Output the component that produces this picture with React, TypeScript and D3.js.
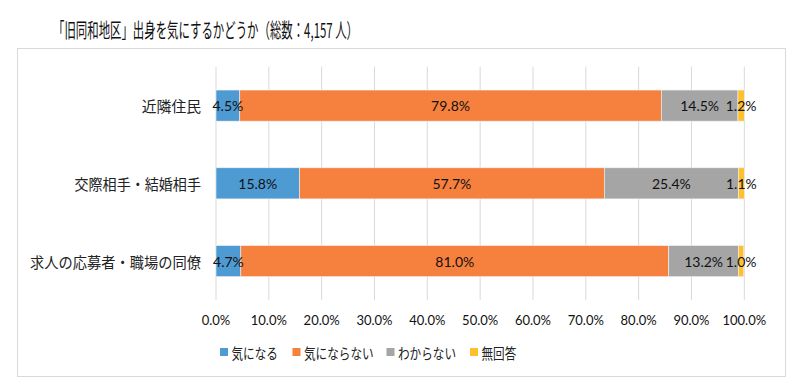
import React from "react";
import * as d3 from "d3";

const title = "「旧同和地区」出身を気にするかどうか（総数：4,157 人）";
const categories = ["近隣住民", "交際相手・結婚相手", "求人の応募者・職場の同僚"];
const seriesNames = ["気になる", "気にならない", "わからない", "無回答"];
const kininaru = [4.5, 15.8, 4.7];
const kininaranai = [79.8, 57.7, 81.0];
const wakaranai = [14.5, 25.4, 13.2];
const mukaito = [1.2, 1.1, 1.0];
const ticks = [0, 10, 20, 30, 40, 50, 60, 70, 80, 90, 100];
const colors = ["#4E9AD3", "#F6803E", "#A5A5A5", "#FFC02D"];

const W = 801, H = 391;
const left = 216, right = 744.3, top = 66.7, bottom = 300;

// approximate rendered width of a CJK label in the narrow reference font
const labelWidth = (s: string, em: number) =>
  Array.from(s).reduce((a, ch) => a + (ch === "・" ? em * 0.55 : em), 0);

export default function App() {
  const x = d3.scaleLinear().domain([0, 100]).range([left, right]);
  const y = d3.scaleBand().domain(categories).range([top, bottom]).paddingInner(0.6).paddingOuter(0.3);
  const table = categories.map((c, i) => ({
    cat: c,
    "気になる": kininaru[i],
    "気にならない": kininaranai[i],
    "わからない": wakaranai[i],
    "無回答": mukaito[i],
  }));
  const stacked = d3.stack<any>().keys(seriesNames)(table);
  const legendX = [220, 292.5, 386.5, 470];
  const legendW = seriesNames.map((n) => n.length * 11.6);
  const fmt = (v: number) => v.toFixed(1) + "%";
  return (
    <svg width={W} height={H} style={{ position: "absolute", left: 0, top: 0, background: "#fff" }}>
      <rect x={0} y={0} width={W} height={H} fill="#fff" />
      <text x={53} y={37.5} fontSize={20} fontFamily="'Noto Sans CJK JP'" fill="#111" textLength={305} lengthAdjust="spacingAndGlyphs">{title}</text>
      <rect x={17.5} y={48.5} width={768} height={328} fill="none" stroke="#D9D9D9" strokeWidth={1} />
      {ticks.map((t) => (
        <line key={t} x1={x(t)} x2={x(t)} y1={top} y2={bottom} stroke="#D9D9D9" strokeWidth={1} />
      ))}
      {stacked.map((s, si) => (
        <g key={s.key}>
          {s.map((d, i) => (
            <rect key={i} x={x(d[0])} y={y(categories[i])!} width={x(d[1]) - x(d[0])} height={y.bandwidth()}
              fill={colors[si]} stroke="#F2F2F2" strokeWidth={0.6} />
          ))}
        </g>
      ))}
      {stacked.map((s, si) => (
        <g key={"l" + s.key}>
          {s.map((d, i) => (
            <text key={i} x={(x(d[0]) + x(d[1])) / 2} y={y(categories[i])! + y.bandwidth() / 2}
              textAnchor="middle" dominantBaseline="central" fontSize={14} fontFamily="Lato" fill="#111">
              {fmt(d[1] - d[0])}
            </text>
          ))}
        </g>
      ))}
      {categories.map((c) => (
        <text key={c} x={201} y={y(c)! + y.bandwidth() / 2} textAnchor="end" dominantBaseline="central"
          fontSize={15} fontFamily="'Noto Sans CJK JP'" fill="#222"
          textLength={labelWidth(c, 14.8)} lengthAdjust="spacingAndGlyphs">{c}</text>
      ))}
      {ticks.map((t) => (
        <text key={"t" + t} x={x(t)} y={320} textAnchor="middle" dominantBaseline="central" fontSize={13} fontFamily="Lato" fill="#111">
          {t.toFixed(1) + "%"}
        </text>
      ))}
      {seriesNames.map((n, i) => (
        <g key={n} transform={`translate(${legendX[i]},352)`}>
          <rect x={0} y={-4} width={8} height={8} fill={colors[i]} />
          <text x={11.5} y={0} dominantBaseline="central" fontSize={14.5} fontFamily="'Noto Sans CJK JP'" fill="#222"
            textLength={legendW[i]} lengthAdjust="spacingAndGlyphs">{n}</text>
        </g>
      ))}
    </svg>
  );
}
